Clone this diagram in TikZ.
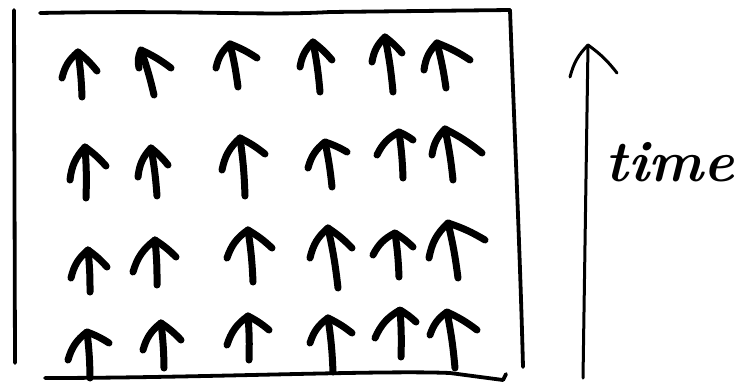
\documentclass[tikz,border=0pt]{standalone}
\usetikzlibrary{arrows.meta}
\tikzset{
  boxline/.style={line width=3.8pt, line cap=round, line join=round},
  arr/.style={line width=7pt, line cap=round, line join=round},
  timeline/.style={line width=3pt, line cap=round, line join=round},
  lbl/.style={font=\fontsize{58}{62}\selectfont\bfseries\itshape, inner sep=0pt}
}
\newcommand\harrow[4]{%
  \draw[arr] (#3) to[bend left=18] (#1) to[bend left=6] (#4);
  \draw[arr] (#1) to[bend left=3] (#2);
}
\begin{document}
\begin{tikzpicture}[x=1pt,y=-1pt]
\useasboundingbox (0,0) rectangle (738,383);
% frame
\draw[boxline] (14,10) -- (15,363);
\draw[boxline] (40,13) .. controls (200,10) and (260,16) .. (330,12) -- (510,10);
\draw[boxline] (510,10) .. controls (514,120) and (520,250) .. (523,367);
\draw[boxline] (45,378) .. controls (200,378) and (380,370) .. (450,373) -- (503,380) -- (506,374);
% time arrow
\coordinate (t0) at (583,378);
\coordinate (t1) at (588,45);
\coordinate (tl) at (570,77);
\coordinate (tr) at (617,73);
\draw[timeline] (t0) -- (t1);
\draw[timeline] (tl) to[bend left=15] (t1) to[bend left=8] (tr);
\node[lbl] (time) at (670,162) {time};
% row 1
\harrow{78,52}{82,97}{62,78}{97,71}
\harrow{141,50}{154,95}{139,68}{171,68}
\harrow{230,44}{238,87}{216,68}{257,58}
\harrow{313,42}{320,92}{300,67}{332,60}
\harrow{385,37}{393,92}{372,62}{402,53}
\harrow{437,43}{446,88}{424,70}{470,60}
% row 2
\harrow{85,147}{86,198}{70,180}{106,166}
\harrow{151,148}{157,196}{138,177}{168,165}
\harrow{240,138}{245,196}{222,170}{265,154}
\harrow{325,142}{332,187}{308,168}{347,152}
\harrow{399,132}{403,178}{377,155}{413,140}
\harrow{445,129}{453,180}{432,155}{482,153}
% row 3
\harrow{88,250}{90,292}{71,278}{107,267}
\harrow{155,240}{157,285}{133,272}{176,257}
\harrow{248,230}{253,282}{227,258}{272,248}
\harrow{328,228}{338,288}{310,258}{352,248}
\harrow{395,233}{399,277}{373,255}{413,247}
\harrow{448,223}{458,278}{429,258}{485,240}
% row 4
\harrow{87,332}{90,378}{68,360}{109,343}
\harrow{161,323}{164,368}{143,350}{181,340}
\harrow{248,316}{249,360}{227,345}{269,330}
\harrow{328,318}{333,372}{310,343}{352,333}
\harrow{400,310}{401,357}{375,338}{416,322}
\harrow{447,312}{455,368}{430,335}{477,330}
\end{tikzpicture}
\end{document}
